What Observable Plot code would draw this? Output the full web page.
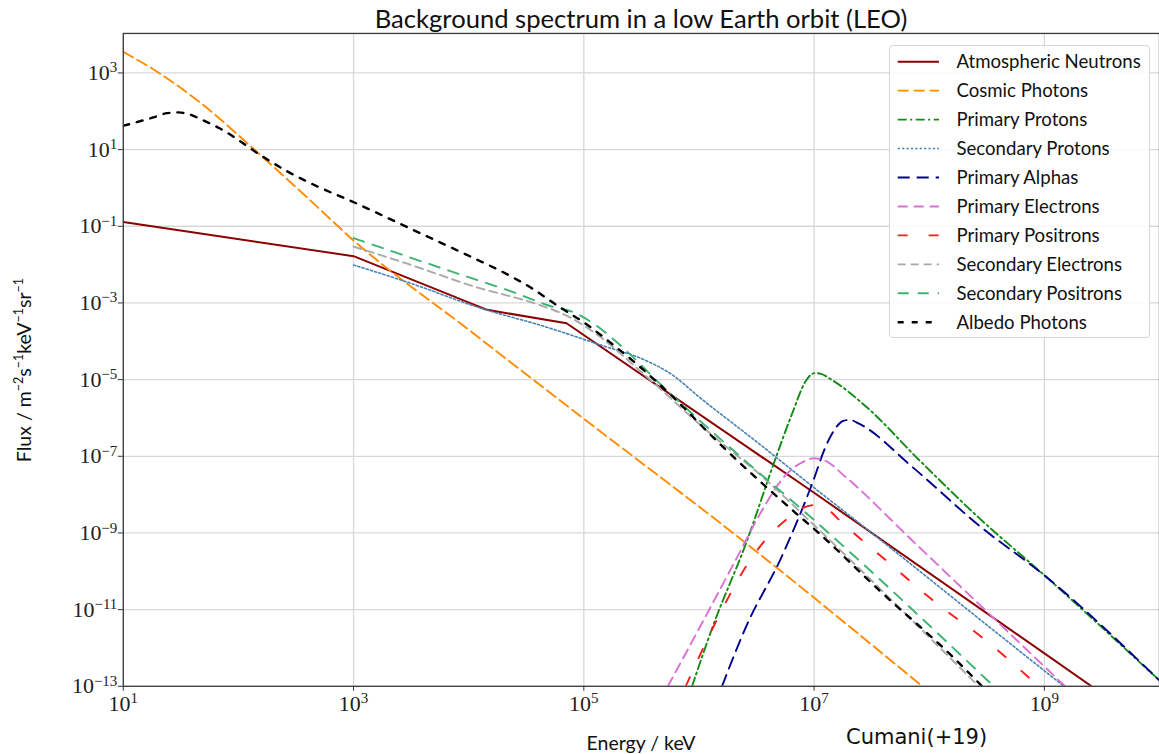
<!DOCTYPE html>
<html>
<head>
<meta charset="utf-8">
<script src="https://cdn.jsdelivr.net/npm/d3@7"></script>
<script src="https://cdn.jsdelivr.net/npm/@observablehq/plot@0.6"></script>
<style>
  html, body { margin: 0; padding: 0; background: #fff; overflow: hidden; }
  #fig { position: relative; width: 1159px; height: 754px; overflow: hidden; }
  #fig > svg { position: absolute; left: 0; top: 0; }
  .title { position: absolute; left: 123px; width: 1036px; top: 1px; text-align: center;
           font-family: Lato, sans-serif; font-size: 25.6px; line-height: 34px; color: #111; }
  .xlabel { position: absolute; left: 123px; width: 1036px; top: 731px; text-align: center;
            font-family: Lato, sans-serif; font-size: 19.5px; line-height: 24px; color: #111; }
  .ylabel { position: absolute; left: -126px; width: 300px; top: 358px; text-align: center;
            transform: rotate(-90deg); transform-origin: 150px 12px;
            font-family: Lato, sans-serif; font-size: 19.5px; line-height: 24px; color: #111; }
  .ylabel sup { font-size: 12.5px; vertical-align: 0; position: relative; top: -8px; }
  .caption { position: absolute; left: 846px; top: 722px; font-family: "DejaVu Sans", sans-serif;
             font-size: 21px; line-height: 30px; color: #111; }
  .legend { position: absolute; left: 889px; top: 45px; width: 261px; height: 293px;
            box-sizing: border-box; border: 1px solid #d6d6d6; border-radius: 4px;
            background: rgba(255,255,255,0.85); }
  .legend svg { position: absolute; left: 0; top: 0; }
</style>
</head>
<body>
<div id="fig"></div>
<script>
// Background flux spectra in low Earth orbit.
// Each point is [log10(energy / keV), log10(flux / m^-2 s^-1 keV^-1 sr^-1)].
const seriesNames = [
  "Atmospheric Neutrons", "Cosmic Photons", "Primary Protons", "Secondary Protons",
  "Primary Alphas", "Primary Electrons", "Primary Positrons", "Secondary Electrons",
  "Secondary Positrons", "Albedo Photons"
];

const atmosphericNeutrons = [[1,-0.89],[3,-1.78],[4.16,-3.18],[4.85,-3.53],[7,-7.95],[9.41,-13]];
const cosmicPhotons = [[1,3.55],[1.32,2.98],[1.67,2.22],[2.19,0.86],[2.59,-0.23],[3,-1.37],
  [4,-3.70],[5,-6.02],[6.35,-9.13],[7.94,-13]];
const primaryProtons = [[5.94,-13],[6.12,-11.44],[6.41,-9.26],[6.66,-7.1],[6.81,-5.88],
  [6.925,-5.05],[6.97,-4.88],[7.01,-4.83],[7.06,-4.85],[7.15,-5.0],[7.45,-5.70],[7.91,-7.09],
  [8.43,-8.6],[9.01,-10.13],[10,-12.85]];
const secondaryProtons = [[3,-2.01],[3.46,-2.45],[4.15,-3.18],[4.61,-3.57],[5.19,-4.14],
  [5.5,-4.45],[5.77,-4.88],[6.0,-5.45],[6.5,-6.62],[7,-7.82],[7.53,-9.07],[8.5,-11.4],[9.17,-13]];
const primaryAlphas = [[6.2,-13],[6.41,-11.44],[6.72,-9.61],[6.985,-7.70],[7.1,-6.75],
  [7.19,-6.25],[7.25,-6.08],[7.31,-6.05],[7.39,-6.15],[7.85,-7.27],[8.43,-8.8],[9.01,-10.13],[10,-12.85]];
const primaryElectrons = [[5.73,-13],[6.0,-11.5],[6.32,-9.7],[6.55,-8.4],[6.75,-7.5],[6.9,-7.15],
  [7.0,-7.05],[7.1,-7.12],[7.27,-7.53],[7.85,-9.19],[8.43,-10.85],[9.18,-13]];
const primaryPositrons = [[5.885,-13],[6.15,-11.3],[6.41,-9.87],[6.6,-9.1],[6.78,-8.6],[6.9,-8.35],
  [7.01,-8.27],[7.1,-8.35],[7.245,-8.74],[7.65,-9.78],[8.05,-10.8],[8.49,-11.8],[8.95,-13]];
const secondaryElectrons = [[3,-1.53],[3.46,-1.97],[4.035,-2.56],[4.61,-3.05],[4.85,-3.33],
  [5.08,-3.75],[5.51,-4.83],[6.06,-6.31],[6.58,-7.61],[6.98,-8.74],[8.43,-13]];
const secondaryPositrons = [[3,-1.31],[3.37,-1.69],[3.86,-2.19],[4.38,-2.71],[4.73,-3.10],[4.9,-3.23],
  [5.08,-3.53],[5.37,-4.25],[5.655,-5.09],[6.0,-6.05],[6.41,-7.14],[6.93,-8.48],[8.56,-13]];
const albedoPhotons = [[1,1.62],[1.26,1.84],[1.38,1.95],[1.48,1.97],[1.56,1.93],[1.69,1.77],
  [1.84,1.55],[2.19,0.86],[2.42,0.44],[2.7,0.02],[2.97,-0.33],[3.5,-1.07],[4.0,-1.77],[4.3,-2.2],
  [4.55,-2.62],[4.76,-3.05],[5.02,-3.55],[5.22,-4.01],[5.45,-4.57],[5.77,-5.44],[6.175,-6.66],
  [6.81,-8.40],[7.04,-9.0],[7.56,-10.48],[8.2,-12.22],[8.46,-13]];

const seriesValues = [atmosphericNeutrons, cosmicPhotons, primaryProtons, secondaryProtons,
  primaryAlphas, primaryElectrons, primaryPositrons, secondaryElectrons, secondaryPositrons, albedoPhotons];

// Tick positions as decades
const xTickDecades = [1, 3, 5, 7, 9];
const yTickDecades = [3, 1, -1, -3, -5, -7, -9, -11, -13];

// Line styles, in legend order
const styles = [
  {stroke: "#8b0000", width: 2.0, dash: null, curve: "linear"},
  {stroke: "#ff8c00", width: 1.9, dash: "11,5", curve: "monotone-x"},
  {stroke: "#138a13", width: 1.9, dash: "9,3.5,2,3.5", curve: "monotone-x"},
  {stroke: "#4682b4", width: 1.6, dash: "2.2,2.2", curve: "monotone-x"},
  {stroke: "#00008b", width: 1.9, dash: "12,7", curve: "monotone-x"},
  {stroke: "#da70d6", width: 1.9, dash: "10,6", curve: "monotone-x"},
  {stroke: "#ff1a1a", width: 1.9, dash: "10,21", curve: "monotone-x"},
  {stroke: "#a9a9a9", width: 1.9, dash: "8,5", curve: "monotone-x"},
  {stroke: "#3cb371", width: 1.9, dash: "11,9", curve: "monotone-x"},
  {stroke: "#000000", width: 2.4, dash: "6,8", curve: "monotone-x"}
];

const rows = seriesNames.map((name, i) =>
  seriesValues[i].map(([le, lf]) => ({name, energy: 10 ** le, flux: 10 ** lf})));

const xTicks = xTickDecades.map(d => 10 ** d);
const yTicks = yTickDecades.map(d => 10 ** d);
const fmtDecade = v => "10^" + Math.round(Math.log10(v));

const gridStyle = {stroke: "#d8d8d8", strokeOpacity: 1, strokeWidth: 1.3};

const plot = Plot.plot({
  width: 1161,
  height: 754,
  marginLeft: 123,
  marginRight: 0,
  marginTop: 33,
  marginBottom: 67,
  style: {background: "transparent", color: "#222"},
  x: {type: "log", domain: [1e1, 1e10]},
  y: {type: "log", domain: [1e-13, 10 ** 4.03]},
  marks: [
    Plot.gridX(xTicks, gridStyle),
    Plot.gridY(yTicks, gridStyle),
    ...rows.map((r, i) => Plot.line(r, {
      x: "energy", y: "flux",
      stroke: styles[i].stroke,
      strokeWidth: styles[i].width,
      strokeDasharray: styles[i].dash,
      curve: styles[i].curve,
      clip: true
    })),
    Plot.frame({stroke: "#3a3a3a", strokeWidth: 1.3}),
    Plot.axisX(xTicks, {tickSize: 5, tickPadding: 4, tickFormat: fmtDecade, label: null,
      fontSize: 22, fontFamily: "Liberation Serif", stroke: "#333"}),
    Plot.axisY(yTicks, {tickSize: 5, tickPadding: 1, tickFormat: fmtDecade, label: null,
      fontSize: 22, fontFamily: "Liberation Serif", stroke: "#333"})
  ]
});

// Render 10^n labels with a raised exponent
d3.select(plot)
  .selectAll('g[aria-label="x-axis tick label"] text, g[aria-label="y-axis tick label"] text')
  .each(function () {
    const t = d3.select(this);
    const [base, exp] = t.text().split("^");
    t.text(null);
    t.append("tspan").text(base);
    t.append("tspan").attr("dy", "-0.5em").attr("font-size", "15px").text(exp.replace("-", "\u2212"));
  });

const fig = document.getElementById("fig");
fig.appendChild(plot);

const addDiv = (cls, html) => {
  const d = document.createElement("div");
  d.className = cls;
  d.innerHTML = html;
  fig.appendChild(d);
  return d;
};
addDiv("title", "Background spectrum in a low Earth orbit (LEO)");
addDiv("xlabel", "Energy / keV");
addDiv("ylabel", "Flux / m<sup>\u22122</sup>s<sup>\u22121</sup>keV<sup>\u22121</sup>sr<sup>\u22121</sup>");
addDiv("caption", "Cumani(+19)");

// Legend
const legendDiv = addDiv("legend", "");
const lg = d3.create("svg").attr("width", 261).attr("height", 293);
seriesNames.forEach((name, i) => {
  const y = 15.7 + 28.95 * i;
  lg.append("line")
    .attr("x1", 7.7).attr("x2", 49).attr("y1", y).attr("y2", y)
    .attr("stroke", styles[i].stroke)
    .attr("stroke-width", styles[i].width)
    .attr("stroke-dasharray", styles[i].dash);
  lg.append("text")
    .attr("x", 66.5).attr("y", y).attr("dy", "0.35em")
    .attr("font-family", "Lato, sans-serif").attr("font-size", 18.6).attr("fill", "#111")
    .text(name);
});
legendDiv.appendChild(lg.node());
</script>
</body>
</html>
